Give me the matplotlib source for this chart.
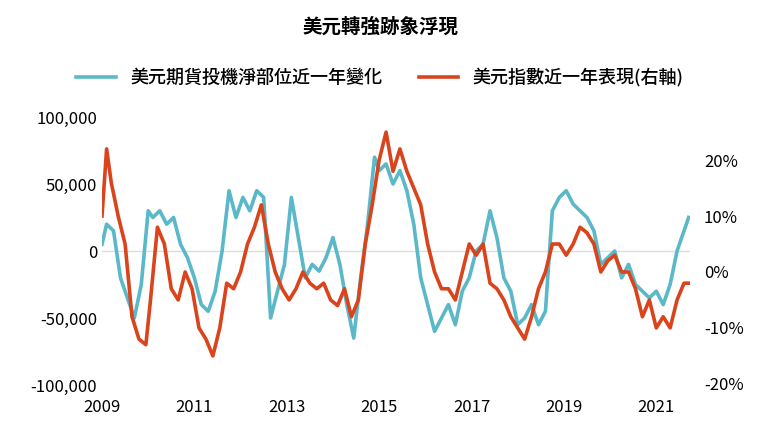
import matplotlib
matplotlib.use("Agg")
import matplotlib.pyplot as plt
from matplotlib import font_manager
import numpy as np

names = {f.name for f in font_manager.fontManager.ttflist}
cjk = [n for n in ["Noto Sans CJK TC", "Noto Sans CJK JP", "Noto Sans CJK SC", "Noto Sans CJK KR"] if n in names]
plt.rcParams["font.family"] = cjk + ["DejaVu Sans"]

blue_t = [2009.0,2009.1,2009.25,2009.4,2009.55,2009.7,2009.85,2010.0,2010.1,2010.25,2010.4,2010.55,2010.7,2010.85,
          2011.0,2011.15,2011.3,2011.45,2011.6,2011.75,2011.9,2012.05,2012.2,2012.35,2012.5,2012.65,2012.8,2012.95,
          2013.1,2013.25,2013.4,2013.55,2013.7,2013.85,2014.0,2014.15,2014.3,2014.45,2014.6,2014.75,2014.9,
          2015.0,2015.15,2015.3,2015.45,2015.6,2015.75,2015.9,2016.05,2016.2,2016.35,2016.5,2016.65,2016.8,2016.95,
          2017.1,2017.25,2017.4,2017.55,2017.7,2017.85,2018.0,2018.15,2018.3,2018.45,2018.6,2018.75,2018.9,
          2019.05,2019.2,2019.35,2019.5,2019.65,2019.8,2019.95,2020.1,2020.25,2020.4,2020.55,2020.7,2020.85,
          2021.0,2021.15,2021.3,2021.45,2021.6,2021.7]
blue_v = [5,20,15,-20,-35,-50,-25,30,25,30,20,25,5,-5,
          -20,-40,-45,-30,0,45,25,40,30,45,40,-50,-30,-10,
          40,10,-20,-10,-15,-5,10,-10,-40,-65,-20,20,70,
          60,65,50,60,45,20,-20,-40,-60,-50,-40,-55,-30,-20,
          0,5,30,10,-20,-30,-55,-50,-40,-55,-45,30,40,
          45,35,30,25,15,-10,-5,0,-20,-10,-25,-30,-35,
          -30,-40,-25,0,15,25]
red_t = [2009.0,2009.1,2009.2,2009.35,2009.5,2009.65,2009.8,2009.95,2010.05,2010.2,2010.35,2010.5,2010.65,2010.8,2010.95,
         2011.1,2011.25,2011.4,2011.55,2011.7,2011.85,2012.0,2012.15,2012.3,2012.45,2012.6,2012.75,2012.9,
         2013.05,2013.2,2013.35,2013.5,2013.65,2013.8,2013.95,2014.1,2014.25,2014.4,2014.55,2014.7,2014.85,
         2015.0,2015.15,2015.3,2015.45,2015.6,2015.75,2015.9,2016.05,2016.2,2016.35,2016.5,2016.65,2016.8,2016.95,
         2017.1,2017.25,2017.4,2017.55,2017.7,2017.85,2018.0,2018.15,2018.3,2018.45,2018.6,2018.75,2018.9,
         2019.05,2019.2,2019.35,2019.5,2019.65,2019.8,2019.95,2020.1,2020.25,2020.4,2020.55,2020.7,2020.85,
         2021.0,2021.15,2021.3,2021.45,2021.6,2021.7]
red_v = [10,22,16,10,5,-8,-12,-13,-5,8,5,-3,-5,0,-3,
         -10,-12,-15,-10,-2,-3,0,5,8,12,5,0,-3,
         -5,-3,0,-2,-3,-2,-5,-6,-3,-8,-5,5,12,
         20,25,18,22,18,15,12,5,0,-3,-3,-5,0,5,
         3,5,-2,-3,-5,-8,-10,-12,-8,-3,0,5,5,
         3,5,8,7,5,0,2,3,0,0,-3,-8,-5,
         -10,-8,-10,-5,-2,-2]

fig = plt.figure(figsize=(7.6, 4.3), dpi=100)
ax = fig.add_axes([102/760, 45/430, 588/760, 268/430])
ax2 = ax.twinx()
ax.plot(blue_t, np.array(blue_v)*1000, color="#5bb8c9", lw=2.6, label="美元期貨投機淨部位近一年變化")
ax2.plot(red_t, red_v, color="#d9441c", lw=2.6, label="美元指數近一年表現(右軸)")
ax.set_ylim(-100000, 100000)
ax2.set_ylim(-20.2, 27.7)
ax.set_xlim(2009, 2021.73)
ax.set_yticks([-100000,-50000,0,50000,100000])
ax.set_yticklabels(["-100,000","-50,000","0","50,000","100,000"])
ax2.set_yticks([-20,-10,0,10,20])
ax2.set_yticklabels(["-20%","-10%","0%","10%","20%"])
ax.set_xticks(range(2009, 2022, 2))
ax.axhline(0, color="#dddddd", lw=1, zorder=0)
for a in (ax, ax2):
    for s in a.spines.values():
        s.set_visible(False)
    a.tick_params(length=0, labelsize=12)
ax.tick_params(axis="x", pad=10)
ax2.tick_params(axis="y", pad=10)
fig.text(0.5, 0.925, "美元轉強跡象浮現", ha="center", fontsize=14, fontweight="bold")
h1, l1 = ax.get_legend_handles_labels()
h2, l2 = ax2.get_legend_handles_labels()
fig.legend(h1+h2, l1+l2, loc="center", bbox_to_anchor=(0.5, 0.82), ncol=2, frameon=False,
           prop={"size": 13, "weight": "medium"}, handlelength=2.2, columnspacing=2)
fig.savefig("out.png", dpi=100)
